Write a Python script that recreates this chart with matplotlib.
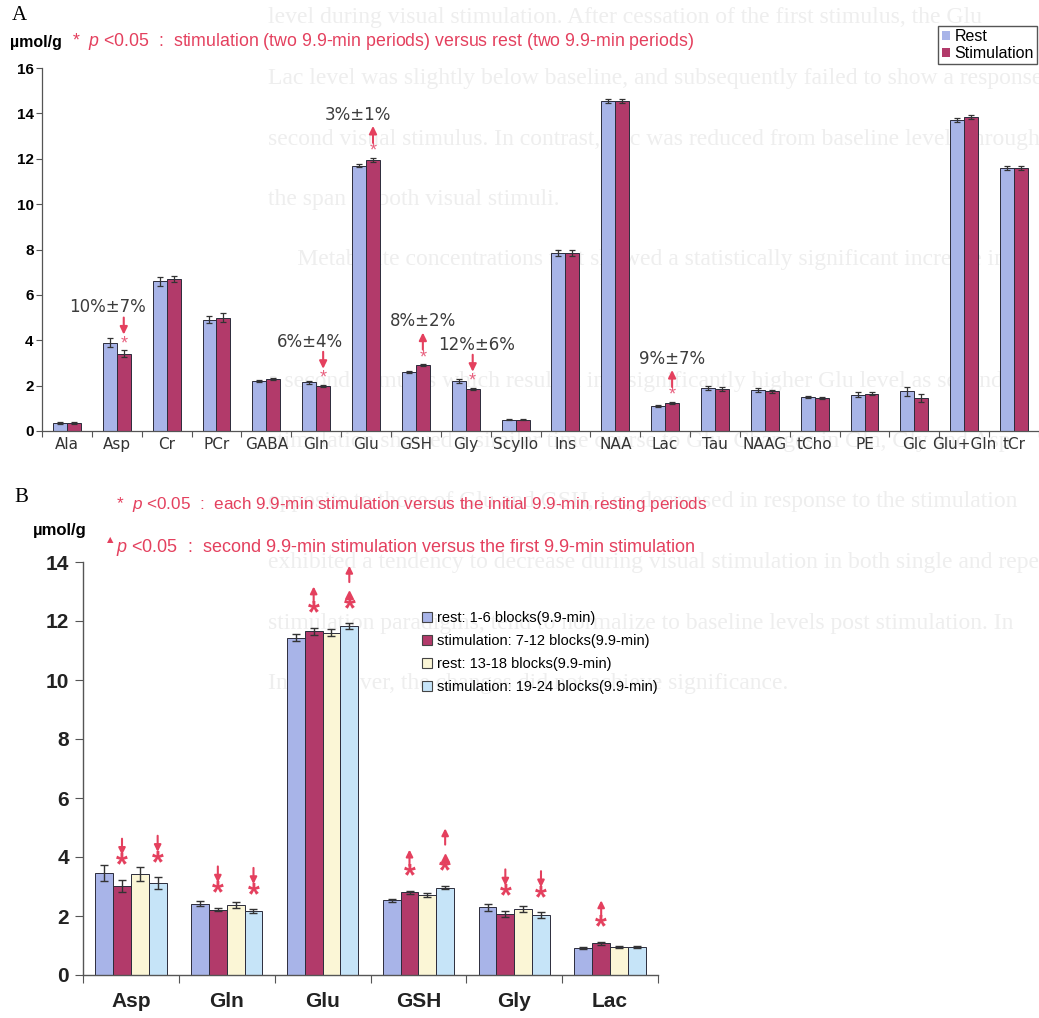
import matplotlib
matplotlib.use("Agg")
import matplotlib.pyplot as plt
from matplotlib.patches import Patch

plt.rcParams["font.family"] = ["Liberation Sans", "DejaVu Sans"]
plt.rcParams["mathtext.fontset"] = "custom"
plt.rcParams["mathtext.rm"] = "Liberation Sans"
plt.rcParams["mathtext.it"] = "Liberation Sans:italic"

W, H = 1039, 1018

# ---- panel A: rest vs stimulation (umol/g) ----
a_labels = ["Ala", "Asp", "Cr", "PCr", "GABA", "Gln", "Glu", "GSH", "Gly", "Scyllo",
            "Ins", "NAA", "Lac", "Tau", "NAAG", "tCho", "PE", "Glc", "Glu+Gln", "tCr"]
a_rest = [0.35, 3.9, 6.6, 4.9, 2.2, 2.15, 11.7, 2.6, 2.2, 0.5,
          7.85, 14.55, 1.1, 1.9, 1.8, 1.5, 1.6, 1.75, 13.7, 11.6]
a_stim = [0.35, 3.4, 6.7, 5.0, 2.3, 2.0, 11.95, 2.9, 1.85, 0.5,
          7.85, 14.55, 1.25, 1.85, 1.75, 1.45, 1.65, 1.45, 13.85, 11.6]
a_rest_err = [0.04, 0.2, 0.2, 0.15, 0.05, 0.06, 0.06, 0.04, 0.08, 0.02,
              0.15, 0.1, 0.03, 0.1, 0.08, 0.03, 0.1, 0.2, 0.1, 0.1]
a_stim_err = [0.04, 0.15, 0.15, 0.18, 0.05, 0.04, 0.1, 0.04, 0.06, 0.02,
              0.12, 0.1, 0.04, 0.1, 0.06, 0.03, 0.08, 0.18, 0.1, 0.08]
a_sig = [("Asp", "down", "10%±7%"), ("Gln", "down", "6%±4%"), ("Glu", "up", "3%±1%"),
         ("GSH", "up", "8%±2%"), ("Gly", "down", "12%±6%"), ("Lac", "up", "9%±7%")]

# ---- panel B: four 9.9-min periods ----
b_labels = ["Asp", "Gln", "Glu", "GSH", "Gly", "Lac"]
b_names = ["rest: 1-6 blocks(9.9-min)", "stimulation: 7-12 blocks(9.9-min)",
           "rest: 13-18 blocks(9.9-min)", "stimulation: 19-24 blocks(9.9-min)"]
b_rest1 = [3.45, 2.42, 11.43, 2.53, 2.3, 0.92]
b_stim1 = [3.02, 2.22, 11.65, 2.8, 2.08, 1.08]
b_rest2 = [3.42, 2.37, 11.6, 2.72, 2.24, 0.94]
b_stim2 = [3.12, 2.16, 11.82, 2.96, 2.02, 0.95]
b_rest1_err = [0.28, 0.08, 0.12, 0.06, 0.12, 0.03]
b_stim1_err = [0.2, 0.06, 0.12, 0.05, 0.1, 0.05]
b_rest2_err = [0.25, 0.09, 0.12, 0.06, 0.1, 0.04]
b_stim2_err = [0.2, 0.07, 0.1, 0.06, 0.1, 0.04]
# (metabolite, period index, direction) : stimulation vs initial rest
b_sig = [("Asp", 1, "down"), ("Asp", 3, "down"), ("Gln", 1, "down"), ("Gln", 3, "down"),
         ("Glu", 1, "up"), ("Glu", 3, "up"), ("GSH", 1, "up"), ("GSH", 3, "up"),
         ("Gly", 1, "down"), ("Gly", 3, "down"), ("Lac", 1, "up")]
# second stimulation vs first stimulation
b_sig2 = [("Glu", 3), ("GSH", 3)]

# faint text from the scanned page behind the figure
bg_lines = [
    "level during visual stimulation. After cessation of the first stimulus, the Glu",
    "Lac level was slightly below baseline, and subsequently failed to show a response to the",
    "second visual stimulus. In contrast, Glc was reduced from baseline levels throughout",
    "the span of both visual stimuli.",
    "     Metabolite concentrations that showed a statistically significant increase in",
    "",
    "a second stimulus which resulted in a significantly higher Glu level as second",
    "stimulation showed a similar time course to Glu. Changes in Gln, Gly and Asp",
    "opposite to those of Glu and GSH, i.e., decreased in response to the stimulation",
    "exhibited a tendency to decrease during visual stimulation in both single and repeated",
    "stimulation paradigms, tend to normalize to baseline levels post stimulation. In",
    "Ins, however, the changes did not achieve significance.",
]

RED = "#e4405e"
PINK = "#e8607e"
C_REST = "#a8b4e8"
C_STIM = "#b23a6a"
C_REST2 = "#fbf6d6"
C_STIM2 = "#c6e4f8"
EDGE = "#2c2c3c"


def fx(px):
    return px / W


def fy(py):
    return 1 - py / H


fig = plt.figure(figsize=(W / 100, H / 100), dpi=100)
fig.patch.set_facecolor("white")

for i, line in enumerate(bg_lines):
    fig.text(fx(268), fy(18 + i * 60.5), line, fontsize=17, family="Liberation Serif",
             color="#eeeeee", va="center", ha="left", zorder=-5)

# ================= panel A =================
axA = fig.add_axes([fx(42), fy(431), fx(1039 - 42), (431 - 68) / H])
axA.patch.set_visible(False)
n = len(a_labels)
xs = list(range(n))
bw = 0.28
axA.bar([x - bw / 2 for x in xs], a_rest, bw, color=C_REST, edgecolor=EDGE,
        linewidth=0.7, yerr=a_rest_err,
        error_kw=dict(ecolor="#333", elinewidth=0.9, capsize=2.5, capthick=0.9))
axA.bar([x + bw / 2 for x in xs], a_stim, bw, color=C_STIM, edgecolor=EDGE,
        linewidth=0.7, yerr=a_stim_err,
        error_kw=dict(ecolor="#333", elinewidth=0.9, capsize=2.5, capthick=0.9))
axA.set_xlim(-0.5, n - 0.5)
axA.set_ylim(0, 16)
axA.set_yticks(range(0, 17, 2))
axA.set_yticklabels([str(v) for v in range(0, 17, 2)], fontsize=11, fontweight="bold")
axA.set_xticks([x - 0.5 for x in range(n + 1)])
axA.set_xticklabels([])
axA.set_xticks(xs, minor=True)
axA.set_xticklabels(a_labels, minor=True, fontsize=11, family="DejaVu Sans", color="#333")
axA.tick_params(axis="x", which="major", length=4, direction="out", color="#555")
axA.tick_params(axis="x", which="minor", length=0, pad=4)
axA.tick_params(axis="y", length=4, color="#555", pad=2)
for s in ["top", "right"]:
    axA.spines[s].set_visible(False)
for s in ["left", "bottom"]:
    axA.spines[s].set_color("#555")
    axA.spines[s].set_linewidth(0.9)

txt_shift = {"Asp": -0.33, "Gln": -0.26, "Glu": -0.3, "GSH": 0.0, "Gly": 0.08, "Lac": 0.0}
for name, direction, label in a_sig:
    i = a_labels.index(name)
    x = i + bw / 2
    top = a_stim[i] + a_stim_err[i]
    sy = top + 0.3
    axA.text(x, sy, "*", color=PINK, fontsize=13, ha="center", va="center")
    if direction == "down":
        tail, head = sy + 1.15, sy + 0.4
    else:
        tail, head = sy + 0.35, sy + 1.1
    axA.annotate("", xy=(x, head), xytext=(x, tail),
                 arrowprops=dict(arrowstyle="-|>,head_length=0.45,head_width=0.22",
                                 color=RED, lw=1.5, shrinkA=0, shrinkB=0))
    axA.text(x + txt_shift[name], sy + 1.6, label, fontsize=12, family="DejaVu Sans",
             color="#3c3c3c", ha="center", va="center")

fig.legend([Patch(facecolor=C_REST, edgecolor="none"), Patch(facecolor=C_STIM, edgecolor="none")],
           ["Rest", "Stimulation"], loc="upper right", bbox_to_anchor=(fx(1037), fy(26)),
           fontsize=11.5, frameon=True, fancybox=False, edgecolor="#555", framealpha=1,
           handlelength=0.5, handleheight=0.5, handletextpad=0.3, borderpad=0.2,
           labelspacing=0.1, borderaxespad=0)

fig.text(fx(12), fy(16), "A", fontsize=15, family="Liberation Serif", va="center", ha="left")
fig.text(fx(10), fy(42), "µmol/g", fontsize=11.5, fontweight="bold", va="center", ha="left")
fig.text(fx(72), fy(42),
         r"*  $p$ <0.05  :  stimulation (two 9.9-min periods) versus rest (two 9.9-min periods)",
         fontsize=12.8, color=RED, va="center", ha="left")

# ================= panel B =================
axB = fig.add_axes([fx(83), fy(975), fx(658 - 83), (975 - 562) / H])
axB.patch.set_visible(False)
m = len(b_labels)
wb = 0.186
series = [(b_rest1, b_rest1_err, C_REST), (b_stim1, b_stim1_err, C_STIM),
          (b_rest2, b_rest2_err, C_REST2), (b_stim2, b_stim2_err, C_STIM2)]
for k, (vals, errs, col) in enumerate(series):
    off = (k - 1.5) * wb
    axB.bar([x + off for x in range(m)], vals, wb, color=col, edgecolor=EDGE,
            linewidth=0.7, yerr=errs,
            error_kw=dict(ecolor="#333", elinewidth=1.0, capsize=3, capthick=1.0))
axB.set_xlim(-0.5, m - 0.5)
axB.set_ylim(0, 14)
axB.set_yticks(range(0, 15, 2))
axB.set_yticklabels([str(v) for v in range(0, 15, 2)], fontsize=15, fontweight="bold",
                    color="#222")
axB.set_xticks([x - 0.5 for x in range(m + 1)])
axB.set_xticklabels([])
axB.set_xticks(range(m), minor=True)
axB.set_xticklabels(b_labels, minor=True, fontsize=15, fontweight="bold", color="#222")
axB.tick_params(axis="x", which="major", length=6, direction="out", color="#555")
axB.tick_params(axis="x", which="minor", length=0, pad=12)
axB.tick_params(axis="y", length=6, color="#555", pad=4)
for s in ["top", "right"]:
    axB.spines[s].set_visible(False)
for s in ["left", "bottom"]:
    axB.spines[s].set_color("#555")
    axB.spines[s].set_linewidth(1.0)

for name, k, direction in b_sig:
    i = b_labels.index(name)
    vals, errs, _ = series[k]
    x = i + (k - 1.5) * wb
    sy = vals[i] + errs[i] + 0.45
    axB.text(x, sy, "*", color=RED, fontsize=22, fontweight="bold", ha="center",
             va="center")
    base = sy + 0.2
    if (name, k) in b_sig2:
        axB.plot([x], [sy + 0.5], marker="^", ms=6, color=RED, mec=RED)
        base = sy + 0.75
    if direction == "down":
        tail, head = base + 0.75, base + 0.2
    else:
        tail, head = base + 0.2, base + 0.75
    axB.annotate("", xy=(x, head), xytext=(x, tail),
                 arrowprops=dict(arrowstyle="-|>,head_length=0.4,head_width=0.2",
                                 color=RED, lw=1.5, shrinkA=0, shrinkB=0))

fig.legend([Patch(facecolor=c, edgecolor="#444", linewidth=0.8) for _, _, c in series],
           b_names, loc="upper left", bbox_to_anchor=(fx(422), fy(611)), fontsize=10.5,
           frameon=False, handlelength=0.7, handleheight=0.7, handletextpad=0.3,
           labelspacing=0.62, borderaxespad=0, borderpad=0)

fig.text(fx(14), fy(498), "B", fontsize=15, family="Liberation Serif", va="center", ha="left")
fig.text(fx(33), fy(530), "µmol/g", fontsize=12, fontweight="bold", va="center", ha="left")
fig.text(fx(116), fy(505),
         r"*  $p$ <0.05  :  each 9.9-min stimulation versus the initial 9.9-min resting periods",
         fontsize=12.3, color=RED, va="center", ha="left")
fig.text(fx(107), fy(540), "▲", fontsize=6, color=RED, va="center", ha="left",
         family="DejaVu Sans")
fig.text(fx(116), fy(547),
         r"$p$ <0.05  :  second 9.9-min stimulation versus the first 9.9-min stimulation",
         fontsize=13, color=RED, va="center", ha="left")

fig.savefig("out.png", dpi=100, facecolor="white")
